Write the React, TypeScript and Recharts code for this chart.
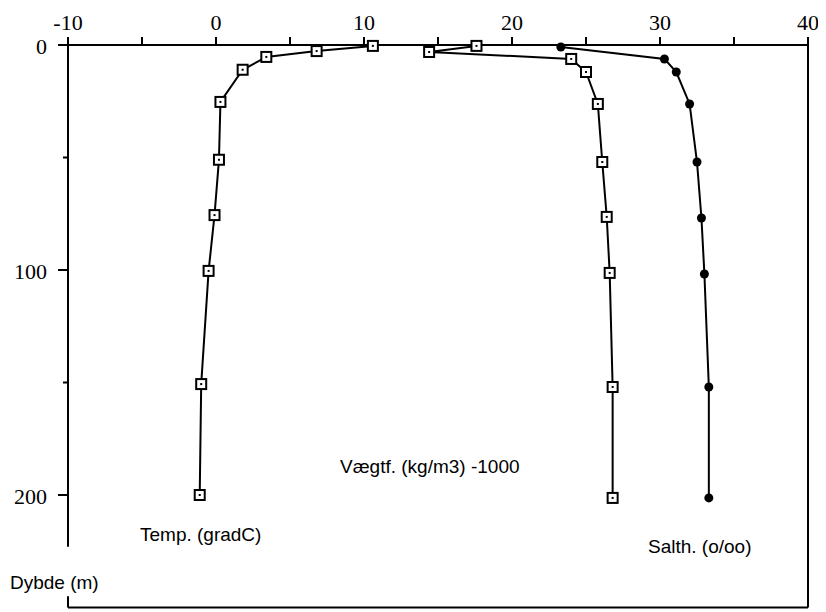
import {
  ScatterChart,
  Scatter,
  XAxis,
  YAxis,
  ReferenceLine,
} from "recharts";

const tempDepths: number[] = [0.4, 2.7, 5.3, 11, 25.3, 51, 75.6, 100.4, 150.7, 200];
const tempValues: number[] = [10.6, 6.8, 3.4, 1.8, 0.3, 0.2, -0.1, -0.5, -1.0, -1.1];

const densDepths: number[] = [0.4, 3.1, 6.2, 12, 26.2, 52, 76.4, 101.3, 152, 201.3];
const densValues: number[] = [17.6, 14.4, 24.0, 25.0, 25.8, 26.1, 26.4, 26.6, 26.8, 26.8];

const saltDepths: number[] = [0.9, 6.2, 12, 26.2, 52, 76.9, 101.8, 152, 201.3];
const saltValues: number[] = [23.3, 30.3, 31.1, 32.0, 32.5, 32.8, 33.0, 33.3, 33.3];

const xTicks: number[] = [-10, -5, 0, 5, 10, 15, 20, 25, 30, 35, 40];
const yTicks: number[] = [0, 50, 100, 150, 200];
const xLabelled: number[] = [-10, 0, 10, 20, 30, 40];
const yLabelled: number[] = [0, 100, 200];

interface Pt {
  x: number;
  depth: number;
}

const toPoints = (depths: number[], values: number[]): Pt[] =>
  depths.map((d, i) => ({ depth: d, x: values[i] }));

const tempData = toPoints(tempDepths, tempValues);
const densData = toPoints(densDepths, densValues);
const saltData = toPoints(saltDepths, saltValues);

const PLOT_LEFT = 60;

const SquareMark = (props: any) => {
  const { cx, cy } = props;
  if (cx == null || cy == null) return null;
  return (
    <g>
      <rect x={cx - 5} y={cy - 5} width={10} height={10} fill="#fff" stroke="#000" strokeWidth={2} />
      <rect x={cx - 1} y={cy - 1} width={2} height={2} fill="#000" />
    </g>
  );
};

const DotMark = (props: any) => {
  const { cx, cy } = props;
  if (cx == null || cy == null) return null;
  return <circle cx={cx} cy={cy} r={4.5} fill="#000" />;
};

const serif = "'Liberation Serif', 'Times New Roman', serif";

// y ticks: long ones with labels at 0/100/200, short ones in between
const DepthTick = (props: any) => {
  const { y, payload } = props;
  const major = yLabelled.includes(payload.value);
  return (
    <g>
      <line
        x1={PLOT_LEFT - (major ? 10 : 5)}
        x2={PLOT_LEFT}
        y1={y}
        y2={y}
        stroke="#000"
        strokeWidth={2}
      />
      {major && (
        <text
          x={PLOT_LEFT - 21}
          y={y + 4}
          textAnchor="end"
          dominantBaseline="middle"
          fontFamily={serif}
          fontSize={22}
          fill="#000"
        >
          {payload.value}
        </text>
      )}
    </g>
  );
};

const labelStyle: React.CSSProperties = {
  position: "absolute",
  fontFamily: "'Liberation Sans', Arial, sans-serif",
  fontSize: 19,
  color: "#000",
  whiteSpace: "nowrap",
  lineHeight: 1,
  transform: "translateY(-50%)",
};

function App() {
  const line = { stroke: "#000", strokeWidth: 2 };
  return (
    <div style={{ position: "relative", width: 818, height: 604, background: "#fff" }}>
      <ScatterChart
        width={818}
        height={604}
        margin={{ top: 0, right: 18, bottom: 4.5, left: 0 }}
      >
        <XAxis
          type="number"
          dataKey="x"
          orientation="top"
          domain={[-10, 40]}
          ticks={xTicks}
          tickFormatter={(v: number) => (xLabelled.includes(v) ? String(v) : "")}
          height={37}
          tickSize={8}
          tickMargin={7}
          axisLine={{ stroke: "#000", strokeWidth: 2 }}
          tickLine={{ stroke: "#000", strokeWidth: 2 }}
          tick={{ fill: "#000", fontFamily: serif, fontSize: 22 }}
          interval={0}
        />
        <YAxis
          type="number"
          dataKey="depth"
          reversed
          domain={[0, 250]}
          ticks={yTicks}
          width={PLOT_LEFT}
          axisLine={false}
          tickLine={false}
          tick={<DepthTick />}
          interval={0}
        />
        <ReferenceLine
          segment={[
            { x: -10, y: 0 },
            { x: -10, y: 223 },
          ]}
          stroke="#000"
          strokeWidth={2}
        />
        <ReferenceLine
          segment={[
            { x: -10, y: 245 },
            { x: -10, y: 250 },
          ]}
          stroke="#000"
          strokeWidth={2}
        />
        <ReferenceLine y={250} stroke="#000" strokeWidth={2} />
        <ReferenceLine x={40} stroke="#000" strokeWidth={2} />
        <Scatter
          data={tempData}
          line={line}
          shape={<SquareMark />}
          isAnimationActive={false}
        />
        <Scatter
          data={densData}
          line={line}
          shape={<SquareMark />}
          isAnimationActive={false}
        />
        <Scatter
          data={saltData}
          line={line}
          shape={<DotMark />}
          isAnimationActive={false}
        />
      </ScatterChart>
      <div style={{ ...labelStyle, left: 332, top: 458 }}>Vægtf. (kg/m3) -1000</div>
      <div style={{ ...labelStyle, left: 132, top: 526 }}>Temp. (gradC)</div>
      <div style={{ ...labelStyle, left: 640, top: 538 }}>Salth. (o/oo)</div>
      <div style={{ ...labelStyle, left: 2, top: 574 }}>Dybde (m)</div>
    </div>
  );
}

export default App;
